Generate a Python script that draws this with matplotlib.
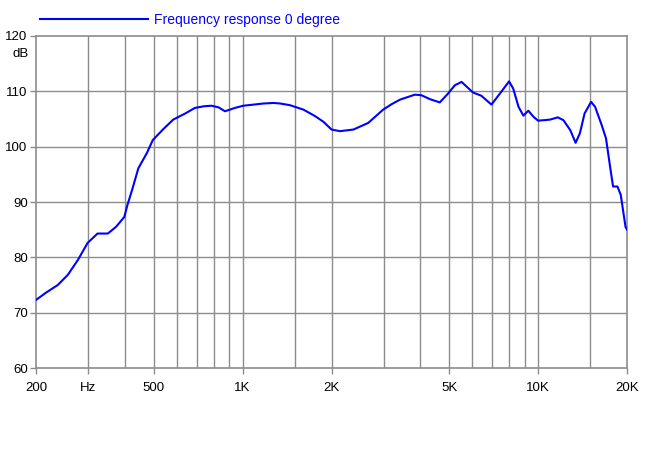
import matplotlib
matplotlib.use("Agg")
import matplotlib.pyplot as plt
from matplotlib.ticker import FixedLocator, NullLocator

plt.rcParams['font.family'] = ['Liberation Sans', 'DejaVu Sans']

freq = [200, 216, 237, 256, 277, 299, 323, 350, 373, 398, 408, 423, 444, 474,
        497, 540, 583, 640, 690, 740, 785, 830, 872, 942, 1006, 1090, 1176,
        1273, 1340, 1446, 1606, 1750, 1878, 2000, 2137, 2374, 2664, 2992, 3200,
        3412, 3829, 4028, 4300, 4650, 4960, 5230, 5510, 5800, 6020, 6430, 6955,
        7430, 7980, 8240, 8590, 8920, 9270, 9650, 10000, 10540, 11000, 11660,
        12180, 12850, 13400, 13850, 14370, 15120, 15600, 16420, 16980, 17530,
        17940, 18560, 19050, 19770, 20000]
spl = [72.3, 73.6, 75.0, 76.8, 79.5, 82.6, 84.3, 84.3, 85.5, 87.3, 89.5, 92.2,
       96.1, 98.8, 101.2, 103.2, 104.9, 106.0, 107.0, 107.3, 107.4, 107.1,
       106.4, 107.0, 107.4, 107.6, 107.8, 107.9, 107.8, 107.5, 106.7, 105.6,
       104.5, 103.1, 102.8, 103.1, 104.3, 106.7, 107.7, 108.5, 109.4, 109.3,
       108.6, 108.0, 109.6, 111.1, 111.7, 110.6, 109.8, 109.2, 107.6, 109.6,
       111.8, 110.5, 107.2, 105.6, 106.5, 105.4, 104.7, 104.8, 104.9, 105.3,
       104.8, 103.0, 100.7, 102.4, 106.0, 108.1, 107.2, 103.9, 101.5, 96.4,
       92.8, 92.8, 91.3, 85.5, 85.0]

grid_freqs = [300, 400, 500, 600, 700, 800, 900, 1000, 1500, 2000, 3000, 4000,
              5000, 6000, 7000, 8000, 9000, 10000, 15000]
xtick_pos = [200, 300, 500, 1000, 2000, 5000, 10000, 20000]
xtick_lab = ['200', 'Hz', '500', '1K', '2K', '5K', '10K', '20K']
ytick_pos = [60, 70, 80, 90, 100, 110, 120]
legend_label = 'Frequency response 0 degree'

W, H = 650, 465
fig = plt.figure(figsize=(6.5, 4.65), dpi=100)
ax = fig.add_axes([36 / W, 1 - 368 / H, (627 - 36) / W, (368 - 36) / H])

gc = '#8c8c8c'
for f in grid_freqs:
    ax.axvline(f, color=gc, lw=1.0, zorder=1)
for v in ytick_pos[1:-1]:
    ax.axhline(v, color=gc, lw=1.0, zorder=1)

ax.plot(freq, spl, color='#0000ff', lw=1.5, zorder=3, label=legend_label,
        solid_joinstyle='round')

ax.set_xscale('log')
ax.set_xlim(200, 20000)
ax.set_ylim(60, 120)
ax.xaxis.set_major_locator(FixedLocator(xtick_pos))
ax.xaxis.set_minor_locator(NullLocator())
ax.set_xticklabels(xtick_lab)
ax.set_yticks(ytick_pos)
ax.tick_params(axis='both', colors=gc, labelcolor='black', labelsize=9.5,
               length=4, width=1)
ax.tick_params(axis='x', pad=6)
ax.tick_params(axis='y', pad=2)
for s in ax.spines.values():
    s.set_color(gc)
    s.set_linewidth(1.2)

ax.text(-0.012, 116.75, 'dB', transform=ax.get_yaxis_transform(),
        ha='right', va='center', fontsize=9.5)

leg = fig.legend(loc='upper left', bbox_to_anchor=(40 / W, 1 - 13 / H),
                 frameon=False, fontsize=10, handlelength=7.8,
                 handletextpad=0.43, borderpad=0, borderaxespad=0)
for t in leg.get_texts():
    t.set_color('#0000ff')

fig.savefig('out.png', dpi=100)
